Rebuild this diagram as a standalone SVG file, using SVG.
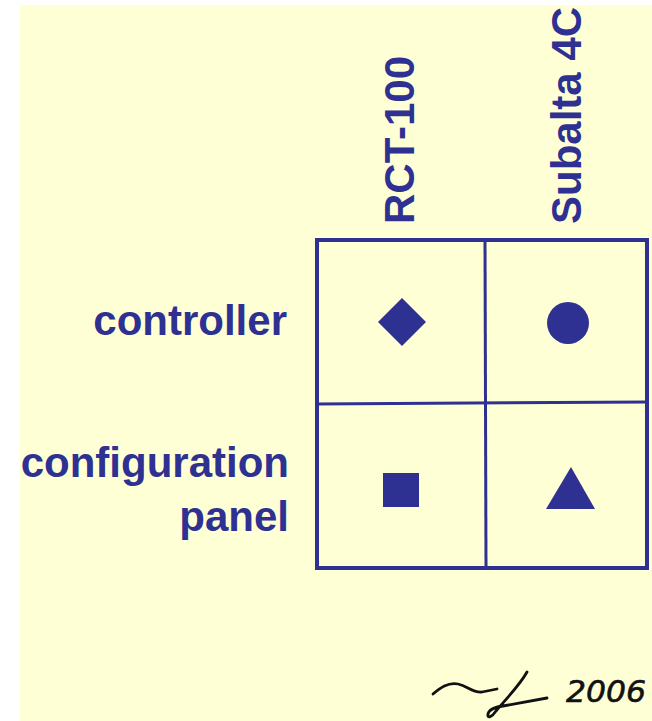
<svg xmlns="http://www.w3.org/2000/svg" width="652" height="721" viewBox="0 0 652 721">
  <style>
    .lbl { font-family: "Liberation Sans", Arial, sans-serif; font-weight: bold; font-size: 42px; fill: #2e3192; }
    .grid { fill: none; stroke: #2e3192; stroke-linecap: square; }
    .mark { fill: #2e3192; }
    .sig { fill: none; stroke: #111; stroke-width: 2.8; stroke-linecap: round; stroke-linejoin: round; }
  </style>
  <rect x="0" y="0" width="652" height="721" fill="#ffffff"/>
  <rect x="20" y="5" width="632" height="716" fill="#ffffd6"/>

  <g id="col-rct100">
    <text class="lbl" transform="translate(414,224) rotate(-90)">RCT-100</text>
  </g>
  <g id="col-subalta4c">
    <text class="lbl" transform="translate(581,224) rotate(-90)">Subalta 4C</text>
  </g>
  <g id="row-controller">
    <text class="lbl" x="287" y="335" text-anchor="end">controller</text>
  </g>
  <g id="row-configuration-panel">
    <text class="lbl" x="289" y="477" text-anchor="end">configuration</text>
    <text class="lbl" x="289" y="531" text-anchor="end">panel</text>
  </g>

  <g id="grid">
    <rect class="grid" x="317" y="240" width="330" height="328" stroke-width="4"/>
    <line class="grid" x1="485" y1="240" x2="486" y2="568" stroke-width="3"/>
    <line class="grid" x1="317" y1="404" x2="647" y2="402" stroke-width="3"/>
  </g>

  <g id="cell-controller-rct100">
    <polygon class="mark" points="402,298 426,322 402,346 378,322"/>
  </g>
  <g id="cell-controller-subalta4c">
    <circle class="mark" cx="568" cy="323" r="21"/>
  </g>
  <g id="cell-panel-rct100">
    <rect class="mark" x="383" y="473" width="36" height="34"/>
  </g>
  <g id="cell-panel-subalta4c">
    <polygon class="mark" points="571,467 595,509 546,509"/>
  </g>

  <g id="signature">
    <path class="sig" d="M433,694 C440,688 448,682 458,684 C468,686 472,693 482,692 L497,689"/>
    <path class="sig" d="M527,672 C520,685 505,700 496,711 C492,717 487,719 488,714 C489,709 496,707 503,706 L547,698"/>
    <text x="566" y="702" font-family="'DejaVu Sans', sans-serif" font-style="italic" font-size="30" fill="#111" stroke="#111" stroke-width="0.6" textLength="80" lengthAdjust="spacingAndGlyphs">2006</text>
  </g>
</svg>
